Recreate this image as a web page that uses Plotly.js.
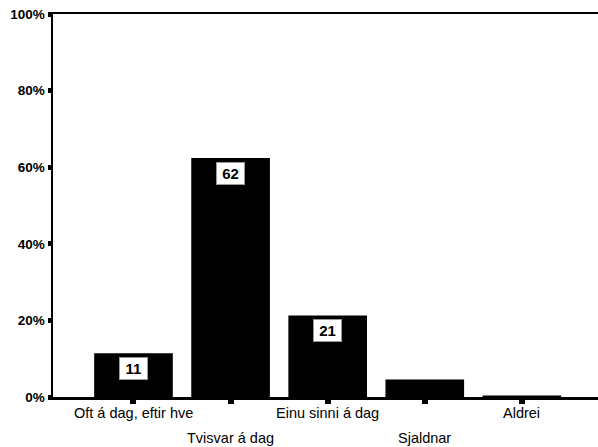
<!DOCTYPE html>
<html>
<head>
<meta charset="utf-8">
<script src="https://cdn.plot.ly/plotly-3.0.1.min.js"></script>
<style>html,body{margin:0;padding:0;background:#fff;overflow:hidden;}</style>
</head>
<body>
<div id="chart" style="width:598px;height:447px;"></div>
<script>
const categories = ["Oft á dag, eftir hve", "Tvisvar á dag", "Einu sinni á dag", "Sjaldnar", "Aldrei"];
const values = [11.4, 62.4, 21.3, 4.6, 0.4];
const boxLabels = ["11", "62", "21", null, null];
const yTickVals = [0, 20, 40, 60, 80, 100];
const yTickText = ["0%", "20%", "40%", "60%", "80%", "100%"];

const FONT = "Liberation Sans, Arial, sans-serif";

const annotations = [];
categories.forEach((c, i) => {
  annotations.push({
    x: c, y: 0, xref: "x", yref: "y",
    text: c, showarrow: false,
    yanchor: "middle", xanchor: "center",
    yshift: (i % 2 === 0) ? -15.5 : -40.5,
    font: {family: FONT, size: 14.5, color: "#000"}
  });
  if (boxLabels[i] !== null) {
    annotations.push({
      x: c, y: values[i], xref: "x", yref: "y",
      text: boxLabels[i], showarrow: false,
      yanchor: "top", xanchor: "center", yshift: -4,
      width: 25, height: 19,
      bgcolor: "#fff", bordercolor: "#999", borderwidth: 1, borderpad: 1,
      font: {family: FONT, size: 15, color: "#000", weight: "bold"}
    });
  }
});

const data = [{
  type: "bar",
  x: categories,
  y: values,
  marker: {color: "#000", line: {width: 0}},
  hoverinfo: "none"
}];

const layout = {
  width: 598, height: 447,
  margin: {l: 53, r: 0, t: 14, b: 50, pad: 0},
  paper_bgcolor: "#fff", plot_bgcolor: "#fff",
  showlegend: false,
  bargap: 0.19,
  font: {family: FONT, color: "#000"},
  xaxis: {
    type: "category",
    range: [-0.829, 4.784],
    showticklabels: false,
    ticks: "outside", ticklen: 4, tickwidth: 6, tickcolor: "#000",
    showline: true, linecolor: "#000", linewidth: 2.5, mirror: true,
    showgrid: false, zeroline: false, fixedrange: true
  },
  yaxis: {
    range: [0, 100],
    tickmode: "array", tickvals: yTickVals, ticktext: yTickText,
    ticks: "outside", ticklen: 3, tickwidth: 5, tickcolor: "#000",
    tickfont: {family: FONT, size: 13.5, color: "#000", weight: "bold"},
    showline: true, linecolor: "#000", linewidth: 2.5,
    showgrid: false, zeroline: false, fixedrange: true
  },
  annotations: annotations
};

Plotly.newPlot("chart", data, layout, {staticPlot: true, displayModeBar: false});
</script>
</body>
</html>
